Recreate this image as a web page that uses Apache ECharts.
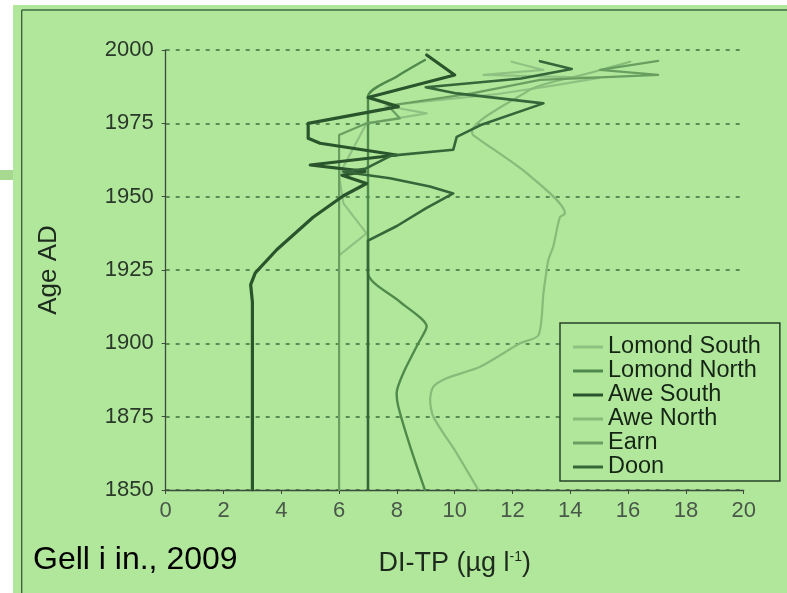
<!DOCTYPE html>
<html>
<head>
<meta charset="utf-8">
<script src="https://cdn.jsdelivr.net/npm/echarts@6.0.0/dist/echarts.min.js"></script>
<style>
html, body { margin: 0; padding: 0; background: #fff; }
#chart { width: 787px; height: 593px; }
</style>
</head>
<body>
<div id="chart"></div>
<script>
var lomondSouth = [[6.0,1930],[6.95,1937.5],[6.15,1947.7],[6.0,1957],[6.15,1960.2],[6.95,1975],[9.03,1978.4],[7.6,1981],[9.5,1983],[11.5,1985],[13.5,1988],[15.0,1990.5],[11.0,1991.5],[13.07,1993.2],[11.97,1996]];
var lomondNorth = [[8.97,1850],[8.46,1864.8],[8.05,1878.4],[7.99,1883],[8.22,1889.8],[8.74,1900],[9.03,1905.7],[8.1,1914.2],[7.0,1924],[7.0,1984],[8.0,1991],[8.97,1996.6]];
var aweSouth = [[3.0,1850],[3.0,1914],[2.94,1920],[3.1,1924],[3.85,1932],[5.1,1943],[6.15,1950.3],[6.95,1954.5],[6.1,1957.3],[6.9,1958.6],[5.0,1960.8],[7.99,1964.2],[5.34,1968.2],[4.93,1969.9],[4.93,1975],[8.05,1980.7],[7.0,1983.8],[10.0,1991.5],[9.03,1998.3]];
var aweNorth = [[10.82,1850],[10.07,1862.5],[9.26,1875],[9.15,1880.7],[9.26,1885.2],[9.72,1888.1],[10.88,1892],[12.26,1900],[12.9,1902.8],[13.07,1917],[13.24,1928.4],[13.41,1933],[13.64,1943],[13.82,1944.3],[12.49,1958],[10.64,1971],[10.6,1972.2],[12.6,1986.4],[13.2,1988.6],[14.6,1992],[16.07,1996]];
var earn = [[6.0,1850],[6.0,1971],[6.95,1975],[8.1,1976.7],[7.7,1981],[10.6,1985.2],[12.95,1989.8],[15.03,1990.7],[17.04,1991.5],[15.03,1993.2],[17.04,1996.3]];
var doon = [[7.0,1850],[7.0,1935],[8.0,1940],[9.0,1946],[9.95,1951.1],[9.14,1953.5],[7.76,1956.3],[6.15,1958.5],[6.9,1959.5],[7.8,1964],[9.95,1966],[10.07,1970.4],[10.9,1974.4],[13.07,1981.8],[10.07,1985.2],[9.0,1987.3],[12.3,1990.3],[14.05,1993.5],[12.95,1996.2]];

var seriesNames = ['Lomond South', 'Lomond North', 'Awe South', 'Awe North', 'Earn', 'Doon'];
var seriesData = [lomondSouth, lomondNorth, aweSouth, aweNorth, earn, doon];
var seriesColors = ['#8fc282', '#4f8a4c', '#2a552c', '#86bb79', '#689f61', '#35663a'];
var seriesWidths = [2.2, 2.4, 3.2, 2.2, 2.2, 2.6];
var seriesSmooth = [false, 0.25, false, 0.25, false, false];

var font = 'Liberation Sans, Arial, sans-serif';
var chart = echarts.init(document.getElementById('chart'));

var option = {
    backgroundColor: '#b1e79b',
    animation: false,
    grid: { left: 165.7, right: 43.3, top: 50, bottom: 103 },
    legend: {
        orient: 'vertical',
        left: 560,
        top: 323,
        padding: [12, 19, 2, 13],
        backgroundColor: '#b1e79b',
        borderColor: '#27442a',
        borderWidth: 1.5,
        icon: 'rect',
        itemWidth: 30,
        itemHeight: 3,
        itemGap: 0,
        itemTextGap: 10,
        textStyle: { fontSize: 23.5, color: '#152515', fontFamily: font, lineHeight: 23.3 },
        data: seriesNames
    },
    xAxis: {
        type: 'value',
        min: 0,
        max: 20,
        interval: 2,
        name: '{a|DI-TP (µg l}{s|-1}{a|)}',
        nameLocation: 'middle',
        nameGap: 60,
        nameTextStyle: {
            rich: {
                a: { fontSize: 27, color: '#1d2a1d', fontFamily: font },
                s: { fontSize: 14, color: '#1d2a1d', fontFamily: font, padding: [0, 0, 12, 0] }
            }
        },
        axisLine: { show: true, lineStyle: { color: '#3c4a3c', width: 1.3 } },
        axisTick: { show: true, length: 4, lineStyle: { color: '#3c4a3c' } },
        axisLabel: { fontSize: 22, color: '#4a584a', fontFamily: font, margin: 10 },
        splitLine: { show: false }
    },
    yAxis: {
        type: 'value',
        min: 1850,
        max: 2000,
        interval: 25,
        name: 'Age AD',
        nameLocation: 'middle',
        nameGap: 104,
        nameTextStyle: { fontSize: 26, color: '#1d2a1d', fontFamily: font },
        axisLine: { show: true, lineStyle: { color: '#3c4a3c', width: 1.3 } },
        axisTick: { show: true, length: 4, lineStyle: { color: '#3c4a3c' } },
        axisLabel: { fontSize: 22, color: '#2a382a', fontFamily: font, margin: 12, formatter: function (v) { return String(v); } },
        splitLine: { show: true, lineStyle: { color: '#3f6e3f', width: 1.5, type: [4, 6] } }
    },
    series: seriesNames.map(function (name, i) {
        return {
            name: name,
            type: 'line',
            data: seriesData[i],
            showSymbol: false,
            symbol: 'none',
            smooth: seriesSmooth[i],
            color: seriesColors[i],
            lineStyle: { color: seriesColors[i], width: seriesWidths[i], join: 'round', cap: 'round' },
            z: i === 2 || i === 5 ? 3 : 2
        };
    }),
    graphic: [
        { type: 'rect', shape: { x: 0, y: 0, width: 787, height: 5 }, style: { fill: '#ffffff' } },
        { type: 'rect', shape: { x: 0, y: 0, width: 13, height: 593 }, style: { fill: '#ffffff' } },
        { type: 'rect', shape: { x: 0, y: 170, width: 13, height: 10 }, style: { fill: '#a8d991' } },
        { type: 'line', shape: { x1: 21.7, y1: 10, x2: 787, y2: 10 }, style: { stroke: '#5a8a58', lineWidth: 1.8 } },
        { type: 'line', shape: { x1: 21.7, y1: 10, x2: 21.7, y2: 593 }, style: { stroke: '#3c5a3c', lineWidth: 1.3 } },
        {
            type: 'text', left: 33, top: 544,
            style: { text: 'Gell i in., 2009', fontSize: 32, fill: '#000000', fontFamily: font }
        }
    ]
};

chart.setOption(option);
</script>
</body>
</html>
